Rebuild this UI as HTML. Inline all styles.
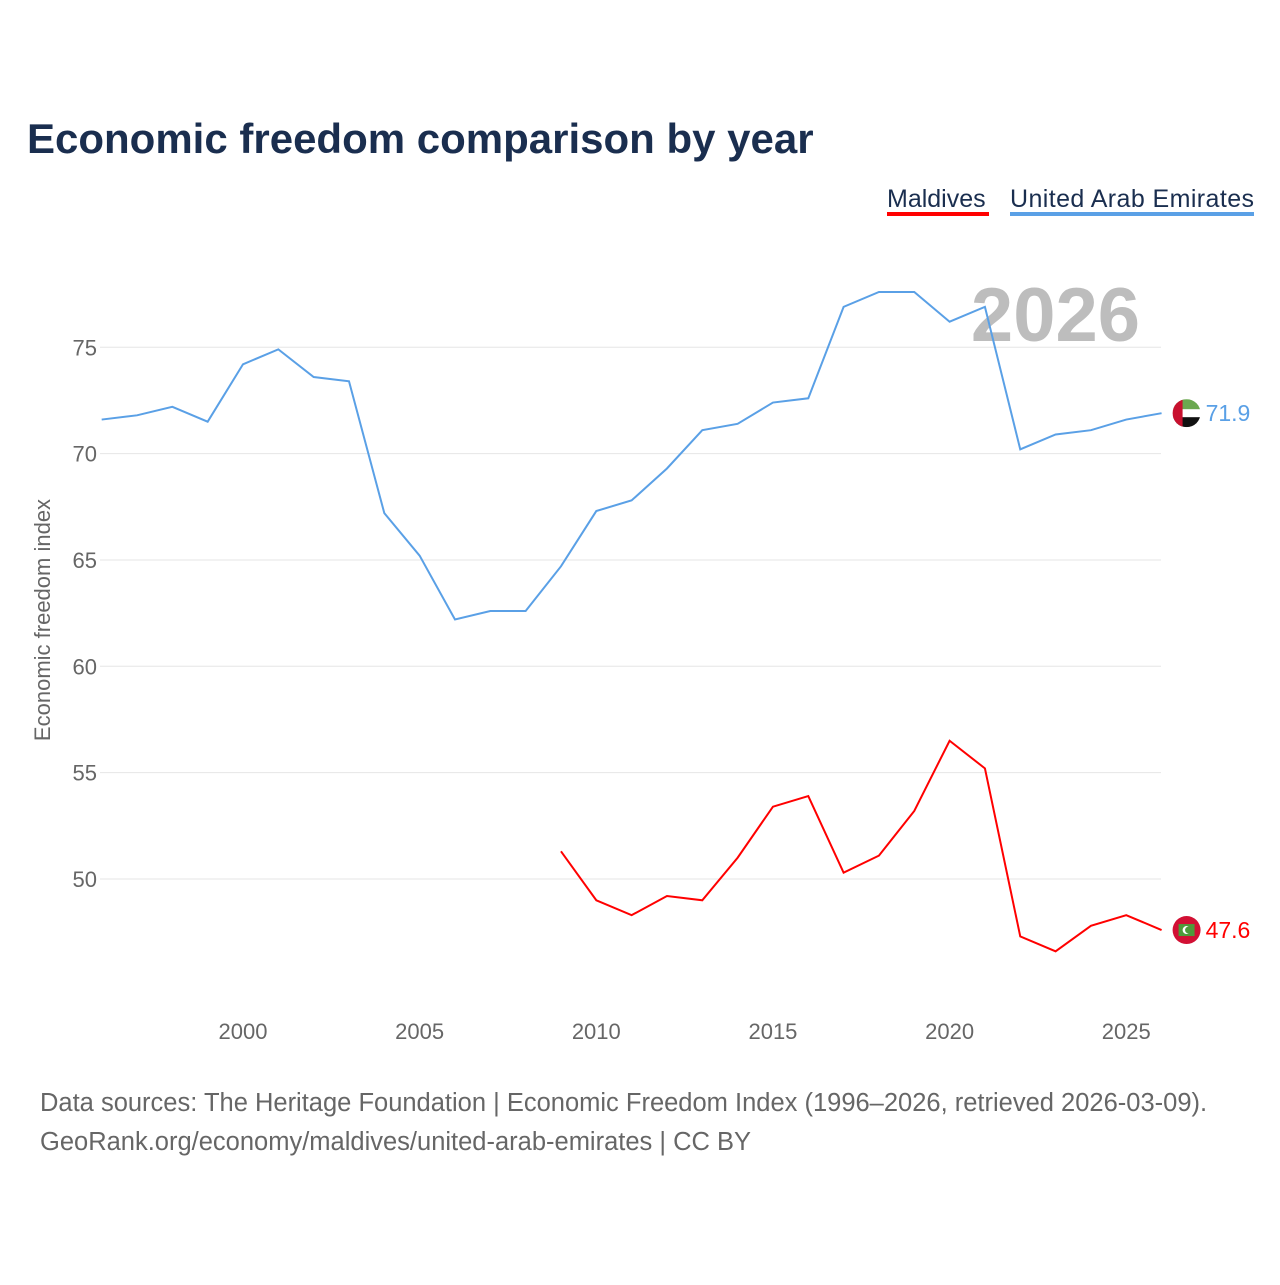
<!DOCTYPE html>
<html><head><meta charset="utf-8"><style>
body{margin:0;background:#fff;font-family:"Liberation Sans",sans-serif;}
</style></head><body>
<svg width="1280" height="1280" viewBox="0 0 1280 1280" xmlns="http://www.w3.org/2000/svg">
<defs>
<clipPath id="cu"><circle cx="1186" cy="412" r="14"/></clipPath>
</defs>
<text x="27" y="153" font-size="42" font-weight="bold" fill="#1a2e4f">Economic freedom comparison by year</text>
<g><text x="887" y="207" font-size="25" fill="#1a2e4f">Maldives</text><rect x="887" y="212" width="102" height="4" fill="#f00"/></g>
<g><text x="1010" y="207" font-size="25" fill="#1a2e4f" textLength="244">United Arab Emirates</text><rect x="1010" y="212" width="244" height="4" fill="#5aa0e6"/></g>
<text x="1140" y="341" font-size="76" font-weight="bold" fill="#bdbdbd" text-anchor="end">2026</text>
<g id="grid"></g><g id="xt"></g><g id="lines"></g>
<text transform="translate(50,620) rotate(-90)" font-size="22" fill="#666" text-anchor="middle">Economic freedom index</text>
<text x="40" y="1111" font-size="25.5" fill="#666">Data sources: The Heritage Foundation | Economic Freedom Index (1996–2026, retrieved 2026-03-09).</text>
<text x="40" y="1150" font-size="25.5" fill="#666">GeoRank.org/economy/maldives/united-arab-emirates | CC BY</text>
</svg>
<script>
const yTicks=[50,55,60,65,70,75];
const xTicks=[2000,2005,2010,2015,2020,2025];
const uaeYears=[1996,1997,1998,1999,2000,2001,2002,2003,2004,2005,2006,2007,2008,2009,2010,2011,2012,2013,2014,2015,2016,2017,2018,2019,2020,2021,2022,2023,2024,2025,2026];
const uaeValues=[71.6,71.8,72.2,71.5,74.2,74.9,73.6,73.4,67.2,65.2,62.2,62.6,62.6,64.7,67.3,67.8,69.3,71.1,71.4,72.4,72.6,76.9,77.6,77.6,76.2,76.9,70.2,70.9,71.1,71.6,71.9];
const mdvYears=[2009,2010,2011,2012,2013,2014,2015,2016,2017,2018,2019,2020,2021,2022,2023,2024,2025,2026];
const mdvValues=[51.3,49.0,48.3,49.2,49.0,51.0,53.4,53.9,50.3,51.1,53.2,56.5,55.2,47.3,46.6,47.8,48.3,47.6];
const NS='http://www.w3.org/2000/svg';
const X=y=>243+(y-2000)*35.33;
const Y=v=>879-(v-50)*21.27;
function mk(t,a,p){const e=document.createElementNS(NS,t);for(const k in a)e.setAttribute(k,a[k]);p.appendChild(e);return e;}
const g=document.getElementById('grid'),xt=document.getElementById('xt'),L=document.getElementById('lines');
yTicks.forEach(v=>{
 const l=mk('line',{x1:100,x2:1161,y1:Y(v),y2:Y(v),stroke:'#e6e6e6','stroke-width':1},g);
 
 
 const t=mk('text',{x:97,y:Y(v)+8,'font-size':22,fill:'#666','text-anchor':'end'},g);t.textContent=v;
 
 
});
xTicks.forEach(v=>{
 const t=mk('text',{x:X(v),y:1039,'font-size':22,fill:'#666','text-anchor':'middle'},xt);t.textContent=v;
 
 
});
function series(yrs,vals,col,name){
 const p=mk('polyline',{points:yrs.map((y,i)=>X(y)+','+Y(vals[i])).join(' '),fill:'none',stroke:col,'stroke-width':2},L);
 
 
 const ly=Y(vals[vals.length-1]), lx=X(yrs[yrs.length-1]), cx=lx+25;
 const fg=mk('g',{},L);
 
 
 if(name==='uae'){
  const cp=document.getElementById('cu').firstElementChild;
  cp.setAttribute('cx',cx);cp.setAttribute('cy',ly);
  const gg=mk('g',{'clip-path':'url(#cu)'},fg);
  mk('rect',{x:cx-14,y:ly-14,width:28,height:28,fill:'#fff'},gg);
  mk('rect',{x:cx-14,y:ly-14,width:28,height:10,fill:'#6aa84f'},gg);
  mk('rect',{x:cx-14,y:ly+4,width:28,height:10,fill:'#111'},gg);
  mk('rect',{x:cx-14,y:ly-14,width:10,height:28,fill:'#c8102e'},gg);
 } else {
  mk('circle',{cx:cx,cy:ly,r:14,fill:'#d21034'},fg);
  mk('rect',{x:cx-8,y:ly-6,width:16,height:12,fill:'#4d9b3a'},fg);
  mk('circle',{cx:cx,cy:ly,r:4,fill:'#fff'},fg);
  mk('circle',{cx:cx+2,cy:ly,r:3.5,fill:'#4d9b3a'},fg);
 }
 const t=mk('text',{x:lx+44,y:ly+8,'font-size':23,fill:col},L);t.textContent=vals[vals.length-1].toFixed(1);
 
 
}
series(uaeYears,uaeValues,'#5aa0e6','uae');
series(mdvYears,mdvValues,'#f00','maldives');
</script>
</body></html>
